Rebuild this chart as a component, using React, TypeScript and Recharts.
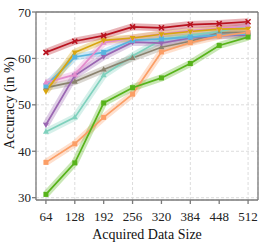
import React from 'react';
import { CartesianGrid, LineChart, Line, ReferenceLine, XAxis, YAxis } from 'recharts';

const sizes = [64, 128, 192, 256, 320, 384, 448, 512];
const yTicks = [30, 40, 50, 60, 70];

const red = [61.3, 63.7, 64.9, 66.8, 66.6, 67.3, 67.5, 67.9];
const gold = [52.9, 61.3, 63.9, 64.4, 65.2, 65.8, 66.3, 66.4];
const pink = [54.8, 56.5, 63.4, 64.4, 65.3, 66.0, 66.5, 67.0];
const cyan = [54.1, 60.3, 61.3, 63.9, 64.2, 64.6, 65.0, 65.3];
const purple = [45.7, 56.3, 60.4, 63.5, 63.3, 64.4, 64.9, 65.0];
const gray = [53.7, 55.0, 57.6, 60.1, 62.4, 63.7, 65.5, 65.6];
const teal = [44.2, 47.3, 56.4, 60.5, 64.0, 65.0, 65.8, 67.0];
const orange = [37.6, 41.6, 47.3, 52.3, 61.4, 63.4, 64.8, 65.6];
const green = [30.7, 37.5, 50.4, 53.7, 55.8, 58.9, 62.8, 64.6];

const FONT = '"Liberation Serif", "Times New Roman", serif';

// draw order: first is at the bottom
const series = [
    { key: 'teal', values: teal, color: '#7fd1bd', marker: 'up' },
    { key: 'gray', values: gray, color: '#8b836f', marker: 'up' },
    { key: 'purple', values: purple, color: '#9a66b2', marker: 'down' },
    { key: 'cyan', values: cyan, color: '#58b5df', marker: 'square' },
    { key: 'pink', values: pink, color: '#e38ccd', marker: 'up' },
    { key: 'gold', values: gold, color: '#d8a50f', marker: 'down' },
    { key: 'orange', values: orange, color: '#fb9e66', marker: 'square' },
    { key: 'green', values: green, color: '#57b31a', marker: 'square' },
    { key: 'red', values: red, color: '#b8121f', marker: 'cross' },
];

const rows = sizes.map((x, i) => {
    const row: Record<string, number> = { x };
    series.forEach((s) => (row[s.key] = s.values[i]));
    return row;
});

const makeDot = (marker: string, color: string) => (props: any) => {
    const { cx, cy, index } = props;
    const k = `${marker}-${index}`;
    if (cx == null || cy == null) return <g key={k} />;
    if (marker === 'square') {
        return <rect key={k} x={cx - 2.5} y={cy - 2.5} width={5} height={5} fill={color} />;
    }
    if (marker === 'up') {
        return <polygon key={k} points={`${cx},${cy - 3.3} ${cx - 3},${cy + 2} ${cx + 3},${cy + 2}`} fill={color} />;
    }
    if (marker === 'down') {
        return <polygon key={k} points={`${cx},${cy + 3.3} ${cx - 3},${cy - 2} ${cx + 3},${cy - 2}`} fill={color} />;
    }
    return (
        <g key={k} stroke={color} strokeWidth={1.6}>
            <line x1={cx - 2.5} y1={cy - 2.5} x2={cx + 2.5} y2={cy + 2.5} />
            <line x1={cx - 2.5} y1={cy + 2.5} x2={cx + 2.5} y2={cy - 2.5} />
        </g>
    );
};

const App = () => {
    return (
        <div style={{ position: 'absolute', left: 0, top: 0, width: 266, height: 245, fontFamily: FONT }}>
            <LineChart width={266} height={245} data={rows} margin={{ top: 12, right: 8, bottom: 0, left: 0 }}>
                <CartesianGrid stroke="#dcdcdc" strokeDasharray="3 2" />
                <XAxis
                    dataKey="x"
                    type="number"
                    domain={[42, 534]}
                    allowDataOverflow
                    ticks={sizes}
                    height={45}
                    tickSize={4}
                    tickMargin={8}
                    stroke="#7a7a7a"
                    strokeWidth={1.3}
                    tick={{ fill: '#222', fontSize: 13, fontFamily: FONT }}
                    label={{ value: 'Acquired Data Size', position: 'insideBottom', offset: 6, fill: '#111', fontSize: 14, fontFamily: FONT }}
                />
                <YAxis
                    type="number"
                    domain={[29.5, 70]}
                    allowDataOverflow
                    ticks={yTicks}
                    width={36}
                    tickSize={4}
                    tickMargin={1}
                    stroke="#7a7a7a"
                    strokeWidth={1.3}
                    tick={{ fill: '#222', fontSize: 13, fontFamily: FONT }}
                    label={{
                        content: () => (
                            <text
                                x={9}
                                y={103}
                                transform="rotate(-90, 9, 103)"
                                textAnchor="middle"
                                dominantBaseline="central"
                                fill="#111"
                                fontSize={14}
                                fontFamily={FONT}
                            >
                                Accuracy (in %)
                            </text>
                        ),
                    }}
                />
                <ReferenceLine y={70} stroke="#7a7a7a" strokeWidth={1.3} />
                <ReferenceLine x={534} stroke="#7a7a7a" strokeWidth={1.3} />
                {series.map((s) => (
                    <Line
                        key={`band-${s.key}`}
                        dataKey={s.key}
                        stroke={s.color}
                        strokeOpacity={0.32}
                        strokeWidth={7}
                        dot={false}
                        activeDot={false}
                        isAnimationActive={false}
                        type="linear"
                    />
                ))}
                {series.map((s) => (
                    <Line
                        key={`line-${s.key}`}
                        dataKey={s.key}
                        stroke={s.color}
                        strokeWidth={1.7}
                        dot={makeDot(s.marker, s.color)}
                        activeDot={false}
                        isAnimationActive={false}
                        type="linear"
                    />
                ))}
            </LineChart>
        </div>
    );
};

export default App;
